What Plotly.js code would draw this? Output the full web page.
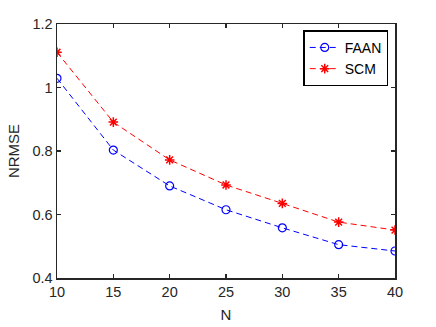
<!DOCTYPE html>
<html>
<head>
<meta charset="utf-8">
<script src="https://cdn.plot.ly/plotly-3.0.1.min.js"></script>
<style>
  html, body { margin: 0; padding: 0; background: #fff; }
  #chart { width: 436px; height: 327px; }
</style>
</head>
<body>
<div id="chart"></div>
<script>
// sample sizes on the x axis
const nValues = [10, 15, 20, 25, 30, 35, 40];
// NRMSE of each method
const faanNrmse = [1.029, 0.803, 0.690, 0.615, 0.558, 0.505, 0.485];
const scmNrmse = [1.111, 0.891, 0.772, 0.693, 0.635, 0.576, 0.551];
const yTicks = [0.4, 0.6, 0.8, 1, 1.2];

const axisColor = '#262626';
const fontFamily = 'Liberation Sans, Arial, sans-serif';

let traceFaan = {
    x: nValues,
    y: faanNrmse,
    name: 'FAAN',
    mode: 'lines+markers',
    type: 'scatter',
    line: { color: '#0000ff', width: 1, dash: '6px,4px' },
    marker: { symbol: 'circle-open', size: 8, color: '#0000ff', line: { width: 1.2 } }
};
let traceScm = {
    x: nValues,
    y: scmNrmse,
    name: 'SCM',
    mode: 'lines+markers',
    type: 'scatter',
    line: { color: '#ff0000', width: 1, dash: '6px,4px' },
    marker: { symbol: 'asterisk-open', size: 8, color: '#ff0000', line: { width: 1.5, color: '#ff0000' } }
};

let axisCommon = {
    showgrid: false,
    zeroline: false,
    showline: true,
    mirror: 'ticks',
    linecolor: axisColor,
    linewidth: 1.5,
    ticks: 'inside',
    ticklen: 4,
    tickwidth: 1.5,
    tickcolor: axisColor,
    tickfont: { family: fontFamily, size: 14.5, color: axisColor }
};

let layout = {
    width: 436,
    height: 327,
    margin: { l: 57, r: 41, t: 24, b: 49 },
    paper_bgcolor: '#ffffff',
    plot_bgcolor: '#ffffff',
    showlegend: true,
    legend: {
        x: 0.98, y: 0.975, xanchor: 'right', yanchor: 'top',
        bordercolor: '#000000', borderwidth: 1.5, bgcolor: '#ffffff',
        font: { family: fontFamily, size: 14, color: '#000000' },
        tracegroupgap: 0, itemwidth: 30
    },
    xaxis: Object.assign({}, axisCommon, {
        range: [10, 40],
        tickvals: nValues,
        title: { text: 'N', standoff: 10, font: { family: fontFamily, size: 15, color: axisColor } }
    }),
    yaxis: Object.assign({}, axisCommon, {
        range: [0.4, 1.2],
        tickvals: yTicks,
        ticktext: yTicks.map(v => String(v)),
        title: { text: 'NRMSE', standoff: 9, font: { family: fontFamily, size: 15, color: axisColor } }
    })
};

Plotly.newPlot('chart', [traceFaan, traceScm], layout, { staticPlot: true, displayModeBar: false });
</script>
</body>
</html>
